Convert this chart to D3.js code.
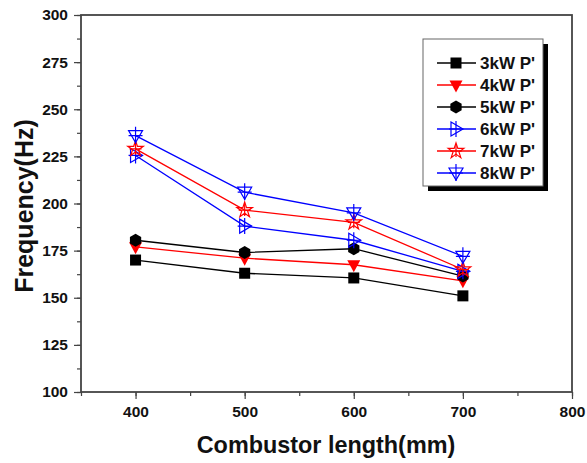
<!DOCTYPE html>
<html>
<head>
<meta charset="utf-8">
<script src="https://cdn.jsdelivr.net/npm/d3@7"></script>
<style>
  body { margin: 0; background: #fff; }
  text { font-family: Arial, "Liberation Sans", sans-serif; font-weight: bold; }
</style>
</head>
<body>
<div id="chart"></div>
<script>
// chart values
const lengths = [400, 500, 600, 700];
const seriesNames = ["3kW P'", "4kW P'", "5kW P'", "6kW P'", "7kW P'", "8kW P'"];
const p3 = [170, 163, 160.5, 151];
const p4 = [177, 171, 167.5, 159];
const p5 = [180.5, 174, 176, 161.5];
const p6 = [225.5, 188, 180.5, 164];
const p7 = [229, 196.5, 190, 165];
const p8 = [236, 206, 195, 172];
const xTicks = [400, 500, 600, 700, 800];
const yTicks = [100, 125, 150, 175, 200, 225, 250, 275, 300];

const colors = ["#000", "#f00", "#000", "#00f", "#f00", "#00f"];
const markers = ["square", "triDown", "hexagon", "triRight", "star", "triDownOpen"];

const series = seriesNames.map((name, i) => ({
    name: name,
    values: [p3, p4, p5, p6, p7, p8][i],
    color: colors[i],
    marker: markers[i]
}));

const W = 587, H = 463;
const margin = {top: 15, right: 15, bottom: 71, left: 81};
const width = W - margin.left - margin.right;
const height = H - margin.top - margin.bottom;

const svg = d3.select("#chart").append("svg")
    .attr("width", W)
    .attr("height", H);
const g = svg.append("g")
    .attr("transform", `translate(${margin.left},${margin.top})`);

const x = d3.scaleLinear().domain([350, 800]).range([0, width]);
const y = d3.scaleLinear().domain([100, 300]).range([height, 0]);

const axisColor = "#444";
const labelFont = "Arial, 'Liberation Sans', sans-serif";

// minor ticks
g.append("g")
    .attr("transform", `translate(0,${height})`)
    .call(d3.axisBottom(x).tickValues(d3.range(350, 801, 50)).tickSize(4).tickFormat(""))
    .call(a => a.select(".domain").remove())
    .call(a => a.selectAll("line").attr("stroke", axisColor).attr("stroke-width", 1.2));
g.append("g")
    .call(d3.axisLeft(y).tickValues(d3.range(100, 301, 12.5)).tickSize(4).tickFormat(""))
    .call(a => a.select(".domain").remove())
    .call(a => a.selectAll("line").attr("stroke", axisColor).attr("stroke-width", 1.2));

// major ticks + labels
g.append("g")
    .attr("transform", `translate(0,${height})`)
    .call(d3.axisBottom(x).tickValues(xTicks).tickSize(7).tickPadding(7))
    .call(a => a.select(".domain").remove())
    .call(a => a.selectAll("line").attr("stroke", axisColor).attr("stroke-width", 1.2))
    .call(a => a.selectAll("text").attr("font-size", 15.5).attr("fill", "#111")
        .style("font-family", labelFont).style("font-weight", "bold"));
g.append("g")
    .call(d3.axisLeft(y).tickValues(yTicks).tickSize(7).tickPadding(6))
    .call(a => a.select(".domain").remove())
    .call(a => a.selectAll("line").attr("stroke", axisColor).attr("stroke-width", 1.2))
    .call(a => a.selectAll("text").attr("font-size", 15.5).attr("fill", "#111")
        .style("font-family", labelFont).style("font-weight", "bold"));

// frame
g.append("rect")
    .attr("width", width)
    .attr("height", height)
    .attr("fill", "none")
    .attr("stroke", axisColor)
    .attr("stroke-width", 1.8);

// axis titles
svg.append("text")
    .attr("x", 326)
    .attr("y", 453)
    .attr("text-anchor", "middle")
    .attr("font-size", 23.4)
    .attr("fill", "#111")
    .text("Combustor length(mm)");
svg.append("text")
    .attr("transform", "translate(33,206) rotate(-90)")
    .attr("text-anchor", "middle")
    .attr("font-size", 25)
    .attr("fill", "#111")
    .text("Frequency(Hz)");

// marker drawing
function drawMarker(sel, type, color) {
    const sw = 1.2;
    if (type === "square") {
        sel.append("rect").attr("x", -5.5).attr("y", -5.5).attr("width", 11).attr("height", 11).attr("fill", color);
    } else if (type === "triDown") {
        sel.append("path").attr("d", "M-6.5,-4.5L6.5,-4.5L0,7.5Z").attr("fill", color);
    } else if (type === "hexagon") {
        const pts = d3.range(6).map(k => {
            const a = Math.PI / 6 + k * Math.PI / 3;
            return [6.5 * Math.cos(a), 6.5 * Math.sin(a)];
        });
        sel.append("path").attr("d", "M" + pts.join("L") + "Z").attr("fill", color);
    } else if (type === "triRight") {
        sel.append("path").attr("d", "M-5,-7L7,0L-5,7Z").attr("fill", "none").attr("stroke", color).attr("stroke-width", sw);
        sel.append("path").attr("d", "M0,-8V8M-7,0H7").attr("stroke", color).attr("stroke-width", sw);
    } else if (type === "star") {
        sel.append("path").attr("d", d3.symbol(d3.symbolStar, 75)()).attr("fill", "none").attr("stroke", color).attr("stroke-width", sw);
        sel.append("path").attr("d", "M0,-6V6M-6,0H6").attr("stroke", color).attr("stroke-width", sw);
    } else if (type === "triDownOpen") {
        sel.append("path").attr("d", "M-7,-5L7,-5L0,7Z").attr("fill", "none").attr("stroke", color).attr("stroke-width", sw);
        sel.append("path").attr("d", "M0,-9V8M-7,0H7").attr("stroke", color).attr("stroke-width", sw);
    }
}

const line = d3.line()
    .x((d, i) => x(lengths[i]))
    .y(d => y(d));

series.forEach(s => {
    g.append("path")
        .datum(s.values)
        .attr("d", line)
        .attr("fill", "none")
        .attr("stroke", s.color)
        .attr("stroke-width", 1.3);
});
series.forEach(s => {
    g.selectAll(null)
        .data(s.values)
        .join("g")
        .attr("transform", (d, i) => `translate(${x(lengths[i])},${y(d)})`)
        .each(function () { drawMarker(d3.select(this), s.marker, s.color); });
});

// legend
const lg = svg.append("g").attr("transform", "translate(423,39)");
lg.append("rect").attr("x", 5).attr("y", 5).attr("width", 120).attr("height", 147).attr("fill", "#000");
lg.append("rect").attr("width", 120).attr("height", 147).attr("fill", "#fff").attr("stroke", "#666").attr("stroke-width", 1);
series.forEach((s, i) => {
    const row = lg.append("g").attr("transform", `translate(0,${24 + i * 22})`);
    row.append("line").attr("x1", 14).attr("x2", 53).attr("stroke", s.color).attr("stroke-width", 1.3);
    drawMarker(row.append("g").attr("transform", "translate(33,0)"), s.marker, s.color);
    row.append("text").attr("x", 57).attr("y", 6).attr("font-size", 17).attr("fill", "#111").text(s.name);
});
</script>
</body>
</html>
